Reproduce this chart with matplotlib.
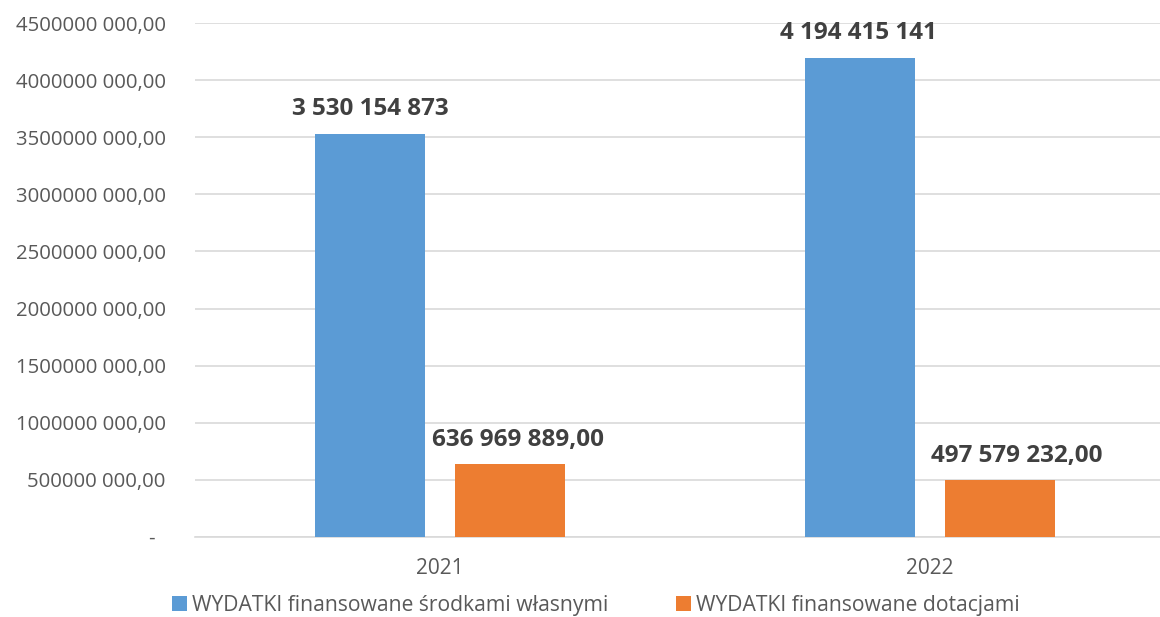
import matplotlib
matplotlib.use('Agg')
import matplotlib.pyplot as plt
from matplotlib.ticker import FixedLocator, FuncFormatter
import numpy as np

years = ['2021', '2022']
own_funds = [3530154873, 4194415141]
subsidies = [636969889.00, 497579232.00]
own_labels = ['3 530 154 873', '4 194 415 141']
sub_labels = ['636 969 889,00', '497 579 232,00']
series_names = ['WYDATKI finansowane środkami własnymi', 'WYDATKI finansowane dotacjami']

plt.rcParams['font.family'] = ['Open Sans', 'DejaVu Sans']

fig = plt.figure(figsize=(11.6, 6.17), dpi=100)
ax = fig.add_axes([195 / 1160, 80 / 617, 980 / 1160, 514 / 617])

x = np.arange(len(years))
w = 0.225
off = 0.143
b1 = ax.bar(x - off, own_funds, w, color='#5B9BD5', label=series_names[0], zorder=3)
b2 = ax.bar(x + off, subsidies, w, color='#ED7D31', label=series_names[1], zorder=3)

# data labels (the orange ones sit a little to the right in the original)
for bars, labels, dx in ((b1, own_labels, (0, -1)), (b2, sub_labels, (6, 12))):
    for rect, txt, d in zip(bars, labels, dx):
        ax.annotate(txt, (rect.get_x() + rect.get_width() / 2, rect.get_height()),
                    xytext=(d, 9), textcoords='offset points', ha='center', va='bottom',
                    fontsize=17.5, fontweight='bold', color='#404040')

ax.set_xlim(-0.5, 1.5)
ax.set_ylim(0, 4.5e9)
ax.yaxis.set_major_locator(FixedLocator(np.arange(0, 4.5e9 + 1, 5e8)))


def fmt(v, pos):
    if v == 0:
        return '-  '
    return f'{int(round(v / 1000))} 000,00'


ax.yaxis.set_major_formatter(FuncFormatter(fmt))
ax.set_xticks(x)
ax.set_xticklabels(years)
ax.tick_params(axis='both', length=0, labelcolor='#595959')
ax.tick_params(axis='y', pad=21, labelsize=14.7)
ax.tick_params(axis='x', pad=15, labelsize=15)
ax.grid(axis='y', color='#D9D9D9', linewidth=1.2, zorder=0)
for s in ['top', 'right', 'left']:
    ax.spines[s].set_visible(False)
ax.spines['bottom'].set_color('#D9D9D9')
ax.spines['bottom'].set_linewidth(1.2)

fig.legend(loc='center', bbox_to_anchor=(596 / 1160, 1 - 605 / 617), ncol=2, frameon=False,
           fontsize=15.2, labelcolor='#595959', handlelength=0.7, handleheight=0.7,
           handletextpad=0.25, columnspacing=3.2)

fig.savefig('out.png', dpi=100)
